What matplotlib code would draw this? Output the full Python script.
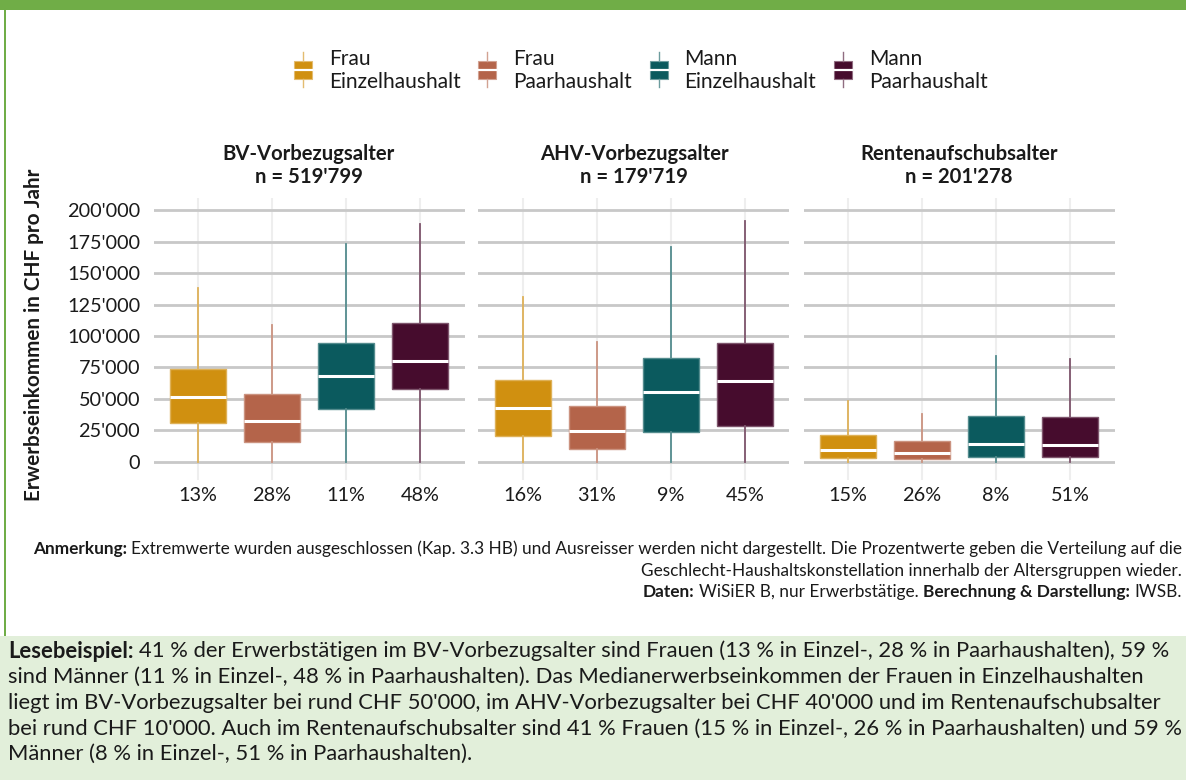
"""
Boxplots Erwerbseinkommen nach Altersgruppe und Geschlecht-Haushaltskonstellation.
"""

import matplotlib

matplotlib.use("Agg")
import matplotlib.pyplot as plt
from matplotlib.colors import to_rgb
from matplotlib.lines import Line2D
from matplotlib.patches import Rectangle

W, H = 1186, 780
FONT = ["Lato", "DejaVu Sans"]

# ── Daten ────────────────────────────────────────────────────────────────── #
gruppen = ["BV-Vorbezugsalter", "AHV-Vorbezugsalter", "Rentenaufschubsalter"]
n_werte = ["519'799", "179'719", "201'278"]
kategorien = ["Frau\nEinzelhaushalt", "Frau\nPaarhaushalt",
              "Mann\nEinzelhaushalt", "Mann\nPaarhaushalt"]
farben = ["#D09010", "#B4644A", "#0B5A5E", "#460C2D"]
anteile = [["13%", "28%", "11%", "48%"],
           ["16%", "31%", "9%", "45%"],
           ["15%", "26%", "8%", "51%"]]

whisker_hoch = [[138000, 108800, 173000, 189000],
                [131000, 95000, 170500, 191800],
                [48300, 38000, 84400, 81700]]
q3 = [[74000, 53600, 94700, 110600],
      [65000, 44300, 82800, 94200],
      [21200, 16700, 36600, 35300]]
median = [[51500, 32400, 67900, 79800],
          [43000, 24700, 55200, 64500],
          [9000, 7200, 14100, 13000]]
q1 = [[30800, 15900, 41900, 57800],
      [20400, 10100, 23400, 28700],
      [2700, 2100, 4000, 3700]]
whisker_tief = [[0, 0, 0, 0],
                [0, 0, 0, 0],
                [0, 0, 0, 0]]

y_ticks = [0, 25000, 50000, 75000, 100000, 125000, 150000, 175000, 200000]
y_labels = ["0", "25'000", "50'000", "75'000", "100'000",
            "125'000", "150'000", "175'000", "200'000"]

anmerkung = [
    [("Anmerkung:", "bold"),
     (" Extremwerte wurden ausgeschlossen (Kap. 3.3 HB) und Ausreisser werden nicht "
      "dargestellt. Die Prozentwerte geben die Verteilung auf die", "normal")],
    [("Geschlecht-Haushaltskonstellation innerhalb der Altersgruppen wieder.", "normal")],
    [("Daten:", "bold"), (" WiSiER B, nur Erwerbstätige. ", "normal"),
     ("Berechnung & Darstellung:", "bold"), (" IWSB.", "normal")],
]
lesebeispiel = [
    [("Lesebeispiel:", "bold"),
     (" 41 % der Erwerbstätigen im BV-Vorbezugsalter sind Frauen (13 % in Einzel-, "
      "28 % in Paarhaushalten), 59 %", "normal")],
    [("sind Männer (11 % in Einzel-, 48 % in Paarhaushalten). Das "
      "Medianerwerbseinkommen der Frauen in Einzelhaushalten", "normal")],
    [("liegt im BV-Vorbezugsalter bei rund CHF 50'000, im AHV-Vorbezugsalter bei "
      "CHF 40'000 und im Rentenaufschubsalter", "normal")],
    [("bei rund CHF 10'000. Auch im Rentenaufschubsalter sind 41 % Frauen (15 % in "
      "Einzel-, 26 % in Paarhaushalten) und 59 %", "normal")],
    [("Männer (8 % in Einzel-, 51 % in Paarhaushalten).", "normal")],
]

GRUEN = "#70AD47"
HELLGRUEN = "#E2EFDA"
TEXT = "#1A1A1A"


def _hell(c, f):
    r, g, b = to_rgb(c)
    return (r + (1 - r) * f, g + (1 - g) * f, b + (1 - b) * f)


def _fx(x):
    return x / W


def _fy(y):
    return 1 - y / H


def _width(fig, s, size, weight):
    r = fig.canvas.get_renderer()
    t1 = fig.text(0, 0, "|" + s + "|", fontsize=size, fontweight=weight, family=FONT)
    t2 = fig.text(0, 0, "||", fontsize=size, fontweight=weight, family=FONT)
    w = t1.get_window_extent(r).width - t2.get_window_extent(r).width
    t1.remove()
    t2.remove()
    return w


def _fit(fig, lines, target, ref=10.0):
    # groesste Zeilenbreite auf target px skalieren
    w = max(sum(_width(fig, s, ref, wt) for s, wt in segs) for segs in lines)
    return ref * target / w


def _rich_line(fig, x, y, segments, size, ha="left", color=TEXT):
    widths = [_width(fig, s, size, wt) for s, wt in segments]
    pos = x if ha == "left" else x - sum(widths)
    for (s, wt), w in zip(segments, widths):
        lead = len(s) - len(s.lstrip(" "))
        off = _width(fig, " " * lead, size, wt) if lead else 0
        fig.text(_fx(pos + off), _fy(y), s.strip(" "), fontsize=size, fontweight=wt,
                 family=FONT, color=color, ha="left", va="center")
        pos += w


def main():
    fig = plt.figure(figsize=(W / 100, H / 100), dpi=100)
    fig.patch.set_facecolor("white")

    # Rahmen und Lesebeispiel-Hintergrund
    fig.add_artist(Rectangle((0, _fy(10)), 1, 10 / H, transform=fig.transFigure,
                             color=GRUEN, lw=0))
    fig.add_artist(Rectangle((_fx(4), _fy(636)), 2 / W, 626 / H, transform=fig.transFigure,
                             color=GRUEN, lw=0))
    fig.add_artist(Rectangle((0, 0), 1, 144 / H, transform=fig.transFigure,
                             color=HELLGRUEN, lw=0))

    tick_size = _fit(fig, [[("200'000", "normal")]], 73)
    title_size = _fit(fig, [[("BV-Vorbezugsalter", "bold")]], 172)
    leg_size = _fit(fig, [[("Einzelhaushalt", "normal")]], 132)
    ylab_size = _fit(fig, [[("Erwerbseinkommen in CHF pro Jahr", "bold")]], 335)

    ax_top, ax_bot = 198, 480
    for i, gruppe in enumerate(gruppen):
        left = 153.5 + i * 325
        ax = fig.add_axes([_fx(left), _fy(ax_bot), 311 / W, (ax_bot - ax_top) / H])
        stats = []
        for j in range(4):
            stats.append(dict(med=median[i][j], q1=q1[i][j], q3=q3[i][j],
                              whislo=whisker_tief[i][j], whishi=whisker_hoch[i][j],
                              fliers=[]))
        bp = ax.bxp(stats, positions=[1, 2, 3, 4], widths=0.76, patch_artist=True,
                    showcaps=False, showfliers=False,
                    medianprops=dict(color="white", lw=2.2, solid_capstyle="butt"),
                    zorder=3)
        for j, box in enumerate(bp["boxes"]):
            box.set_facecolor(farben[j])
            box.set_edgecolor(_hell(farben[j], 0.3))
            box.set_linewidth(1.0)
        for k, wl in enumerate(bp["whiskers"]):
            wl.set_color(_hell(farben[k // 2], 0.3))
            wl.set_linewidth(1.3)
        for m in bp["medians"]:
            m.set_zorder(4)

        ax.set_xlim(0.4, 4.6)
        ax.set_ylim(-14560, 209800)
        ax.set_yticks(y_ticks)
        ax.set_xticks([1, 2, 3, 4], anteile[i])
        ax.grid(axis="y", color="#C8C8C8", lw=2.0, zorder=0)
        ax.grid(axis="x", color="#EEEEEE", lw=1.5, zorder=0)
        ax.set_axisbelow(True)
        for sp in ax.spines.values():
            sp.set_visible(False)
        ax.tick_params(length=0, labelsize=tick_size, labelcolor=TEXT)
        ax.tick_params(axis="x", pad=5)
        if i == 0:
            ax.set_yticklabels(y_labels, family=FONT)
            ax.tick_params(axis="y", pad=9.7)
        else:
            ax.set_yticklabels([])
        for lab in ax.get_xticklabels():
            lab.set_family(FONT)

        cx = left + 311 / 2
        fig.text(_fx(cx), _fy(154), gruppe, fontsize=title_size, fontweight="bold",
                 family=FONT, color=TEXT, ha="center", va="center")
        fig.text(_fx(cx), _fy(177), f"n = {n_werte[i]}", fontsize=title_size,
                 fontweight="bold", family=FONT, color=TEXT, ha="center", va="center")

    fig.text(_fx(34), _fy(335), "Erwerbseinkommen in CHF pro Jahr", rotation=90,
             fontsize=ylab_size, fontweight="bold", family=FONT, color=TEXT,
             ha="center", va="center")

    # Legende
    icon_x = [303, 487, 659, 843]
    text_x = [329, 513, 684, 869]
    for j, kat in enumerate(kategorien):
        col = farben[j]
        x = icon_x[j]
        fig.add_artist(Rectangle((_fx(x - 9), _fy(79)), 18 / W, 18 / H,
                                 transform=fig.transFigure, facecolor=col,
                                 edgecolor=_hell(col, 0.4), lw=0.8))
        fig.add_artist(Line2D([_fx(x - 9), _fx(x + 9)], [_fy(70), _fy(70)],
                              transform=fig.transFigure, color="white", lw=1.6))
        for y0, y1 in [(52, 61), (79, 87)]:
            fig.add_artist(Line2D([_fx(x), _fx(x)], [_fy(y0), _fy(y1)],
                                  transform=fig.transFigure, color=_hell(col, 0.4), lw=1.0))
        zeile1, zeile2 = kat.split("\n")
        fig.text(_fx(text_x[j]), _fy(59), zeile1, fontsize=leg_size, family=FONT,
                 color=TEXT, ha="left", va="center")
        fig.text(_fx(text_x[j]), _fy(82), zeile2, fontsize=leg_size, family=FONT,
                 color=TEXT, ha="left", va="center")

    # Anmerkung (rechtsbuendig)
    anm_size = _fit(fig, anmerkung, 1149)
    for line, y in zip(anmerkung, [549, 571, 592]):
        _rich_line(fig, 1182, y, line, anm_size, ha="right")

    # Lesebeispiel
    les_size = _fit(fig, lesebeispiel, 1172)
    for line, y in zip(lesebeispiel, [651, 677, 703, 729, 754]):
        _rich_line(fig, 8, y, line, les_size, ha="left")

    fig.savefig("out.png", dpi=100, facecolor="white")


if __name__ == "__main__":
    main()
